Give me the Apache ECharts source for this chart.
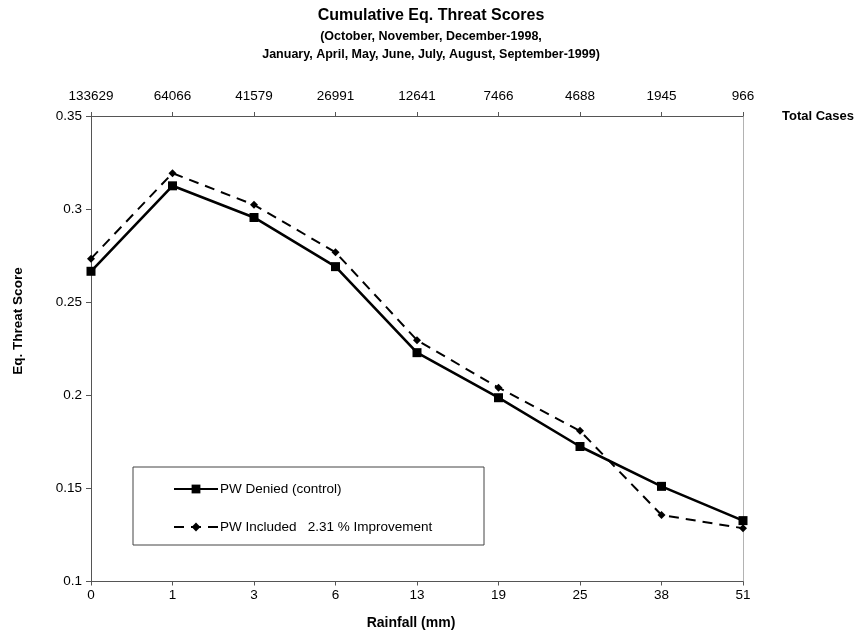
<!DOCTYPE html>
<html>
<head>
<meta charset="utf-8">
<script src="https://cdn.jsdelivr.net/npm/echarts@6/dist/echarts.min.js"></script>
<style>
    html, body { margin: 0; padding: 0; background: #fff; }
    #chart { width: 862px; height: 636px; }
</style>
</head>
<body>
<div id="chart"></div>
<script>
// rainfall thresholds (bottom axis) and number of cases (top axis)
const rainfall = ['0', '1', '3', '6', '13', '19', '25', '38', '51'];
const totalCases = ['133629', '64066', '41579', '26991', '12641', '7466', '4688', '1945', '966'];

// eq. threat scores
const pwDenied = [0.2666, 0.3125, 0.2955, 0.2691, 0.2229, 0.1987, 0.1725, 0.1511, 0.1327];
const pwIncluded = [0.2734, 0.3193, 0.3023, 0.2768, 0.2296, 0.2041, 0.1809, 0.1357, 0.1286];

const seriesNames = ['PW Denied (control)', 'PW Included   2.31 % Improvement'];

const FONT = "'Liberation Sans', Arial, sans-serif";

const myChart = echarts.init(document.getElementById('chart'));

const option = {
    animation: false,
    backgroundColor: '#fff',
    textStyle: { fontFamily: FONT, color: '#000' },
    title: {
        text: 'Cumulative Eq. Threat Scores',
        subtext: '(October, November, December-1998,\nJanuary, April, May, June, July, August, September-1999)',
        left: 'center',
        top: 3,
        itemGap: 4,
        textStyle: { fontFamily: FONT, fontSize: 16, fontWeight: 'bold', color: '#000' },
        subtextStyle: { fontFamily: FONT, fontSize: 12.5, fontWeight: 'bold', color: '#000', lineHeight: 18 },
    },
    grid: { left: 91, right: 119, top: 116, bottom: 54.5 },
    legend: {
        orient: 'vertical',
        left: 173,
        top: 482,
        padding: 0,
        itemWidth: 44,
        itemHeight: 11,
        itemGap: 24,
        data: seriesNames,
        textStyle: { fontFamily: FONT, fontSize: 13.5, color: '#000', padding: [0, 0, 0, -3] },
    },
    xAxis: [
        {
            type: 'category',
            position: 'bottom',
            data: rainfall,
            boundaryGap: false,
            name: 'Rainfall (mm)',
            nameLocation: 'middle',
            nameGap: 35,
            nameTextStyle: { fontFamily: FONT, fontSize: 14, fontWeight: 'bold', color: '#000', padding: [0, 12, 0, 0] },
            axisLine: { lineStyle: { color: '#555', width: 1 } },
            axisTick: { length: 4, lineStyle: { color: '#555' } },
            axisLabel: { margin: 7, fontFamily: FONT, fontSize: 13.5, color: '#000' },
        },
        {
            type: 'category',
            position: 'top',
            data: totalCases,
            boundaryGap: false,
            name: 'Total Cases',
            nameLocation: 'end',
            nameGap: 39,
            nameTextStyle: { fontFamily: FONT, fontSize: 13, fontWeight: 'bold', color: '#000', padding: [0, 0, 8, 0] },
            axisLine: { lineStyle: { color: '#555', width: 1 } },
            axisTick: { length: 4, lineStyle: { color: '#555' } },
            axisLabel: { margin: 13, fontFamily: FONT, fontSize: 13.5, color: '#000' },
        },
    ],
    yAxis: [
        {
            type: 'value',
            min: 0.1,
            max: 0.35,
            interval: 0.05,
            splitLine: { show: false },
            axisLine: { show: true, lineStyle: { color: '#555', width: 1 } },
            axisTick: { show: true, length: 5, lineStyle: { color: '#555' } },
            axisLabel: { margin: 9, fontFamily: FONT, fontSize: 13.5, color: '#000' },
        },
        {
            type: 'value',
            position: 'right',
            min: 0.1,
            max: 0.35,
            interval: 0.05,
            splitLine: { show: false },
            axisLine: { show: true, lineStyle: { color: '#aaa', width: 1, type: 'dotted' } },
            axisTick: { show: false },
            axisLabel: { show: false },
        },
    ],
    graphic: [
        {
            type: 'rect',
            shape: { x: 133, y: 467, width: 351, height: 78 },
            style: { fill: 'none', stroke: '#444', lineWidth: 1 },
            z: 5,
        },
        {
            type: 'text',
            x: 18,
            y: 321,
            rotation: Math.PI / 2,
            style: {
                text: 'Eq. Threat Score',
                fontFamily: FONT,
                fontSize: 13.5,
                fontWeight: 'bold',
                fill: '#000',
                align: 'center',
                verticalAlign: 'middle',
            },
        },
    ],
    series: [
        {
            name: seriesNames[0],
            type: 'line',
            xAxisIndex: 0,
            yAxisIndex: 0,
            data: pwDenied,
            symbol: 'rect',
            symbolSize: 9,
            lineStyle: { color: '#000', width: 2.6 },
            itemStyle: { color: '#000' },
            z: 3,
        },
        {
            name: seriesNames[1],
            type: 'line',
            xAxisIndex: 0,
            yAxisIndex: 0,
            data: pwIncluded,
            symbol: 'diamond',
            symbolSize: 8,
            lineStyle: { color: '#000', width: 2, type: [10, 7] },
            itemStyle: { color: '#000' },
            z: 4,
        },
    ],
};

option && myChart.setOption(option);
</script>
</body>
</html>
